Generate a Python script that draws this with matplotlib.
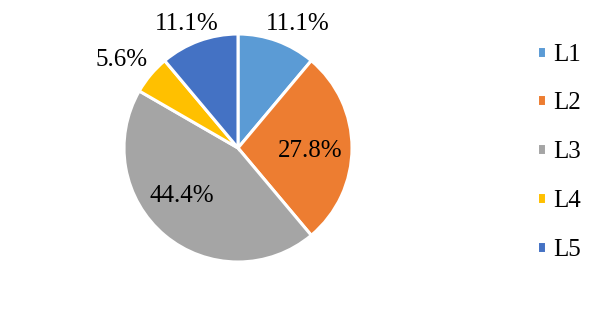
import matplotlib

matplotlib.use("Agg")

import matplotlib.pyplot as plt

plt.rcParams["font.family"] = ["Liberation Serif", "DejaVu Serif"]

levels = ["L1", "L2", "L3", "L4", "L5"]
counts = [2, 5, 8, 1, 2]
colors = ["#5B9BD5", "#ED7D31", "#A5A5A5", "#FFC000", "#4472C4"]

# label positions (data units, pie radius = 1), as placed in the reference
label_xy = [(0.52, 1.09), (0.63, -0.03), (-0.49, -0.42), (-1.02, 0.77), (-0.45, 1.09)]

fig = plt.figure(figsize=(6.08, 3.15), dpi=100)
fig.patch.set_facecolor("white")
ax = fig.add_axes([124 / 608, 53 / 315, 228 / 608, 228 / 315])

total = sum(counts)
wedges, _ = ax.pie(
    counts,
    colors=colors,
    startangle=90,
    counterclock=False,
    radius=1.0,
    wedgeprops={"edgecolor": "white", "linewidth": 2.2},
)
ax.set_xlim(-1, 1)
ax.set_ylim(-1, 1)
ax.set_aspect("equal")
ax.axis("off")

for value, (x, y) in zip(counts, label_xy):
    ax.text(
        x, y, f"{100 * value / total:.1f}%",
        ha="center", va="center", fontsize=18, color="black",
        clip_on=False,
    )

fig.legend(
    wedges, levels,
    loc="center left",
    bbox_to_anchor=(519 / 608, 1 - 152 / 315),
    frameon=False,
    fontsize=18,
    handlelength=0.36,
    handleheight=0.36,
    handletextpad=0.3,
    labelspacing=1.07,
    borderpad=0.2,
)

fig.savefig("out.png", dpi=100, facecolor="white")
